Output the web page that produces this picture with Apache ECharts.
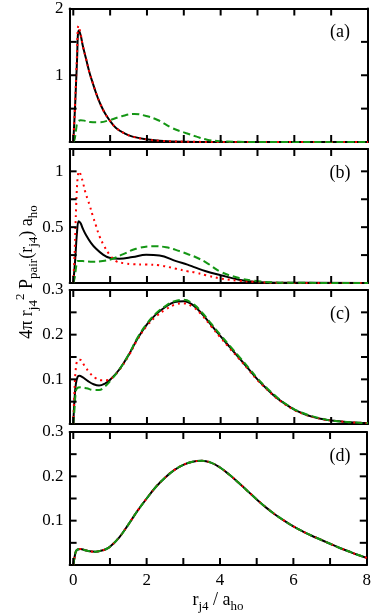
<!DOCTYPE html>
<html>
<head>
<meta charset="utf-8">
<script src="https://cdn.jsdelivr.net/npm/echarts@6/dist/echarts.min.js"></script>
<style>
html,body{margin:0;padding:0;background:#fff;}
#chart{width:374px;height:613px;}
</style>
</head>
<body>
<div id="chart"></div>
<script>
//x轴
var xMin=-0.1,xMax=8;
var xTicks=[0,1,2,3,4,5,6,7];
var xLabels=[0,2,4,6,8];
//y轴 (a)(b)(c)(d)
var yMax=[2,1.2,0.3,0.3];
var yTicks=[
    [0.5,1,1.5],
    [0.25,0.5,0.75,1],
    [0.05,0.1,0.15,0.2,0.25],
    [0.05,0.1,0.15,0.2,0.25]
];
var yLabels=[[1,2],[0.5,1],[0.1,0.2,0.3],[0.1,0.2,0.3]];
var panelNames=['(a)','(b)','(c)','(d)'];

//(a)
var aBlack=[[0,0],[0.05,0.55],[0.1,1.2],[0.147,1.67],[0.2,1.6],[0.255,1.45],[0.345,1.25],[0.435,1.05],[0.53,0.88],[0.62,0.73],[0.71,0.6],[0.84,0.45],[0.98,0.33],[1.16,0.21],[1.39,0.13],[1.61,0.08],[1.98,0.04],[2.34,0.02],[3,0.005],[4,0.001],[8,0]];
var aRed=[[0,0],[0.05,0.6],[0.1,1.3],[0.14,1.74],[0.2,1.62],[0.255,1.45],[0.345,1.25],[0.435,1.05],[0.53,0.88],[0.62,0.73],[0.71,0.6],[0.84,0.45],[0.98,0.33],[1.16,0.21],[1.39,0.13],[1.61,0.08],[1.98,0.04],[2.34,0.02],[3,0.005],[4,0.001],[8,0]];
var aGreen=[[0,0],[0.04,0.05],[0.08,0.2],[0.12,0.3],[0.2,0.325],[0.3,0.32],[0.45,0.3],[0.7,0.295],[1.0,0.33],[1.34,0.39],[1.66,0.42],[1.98,0.39],[2.29,0.33],[2.7,0.205],[3.05,0.135],[3.35,0.08],[3.63,0.035],[4.0,0.012],[4.5,0.003],[5,0],[8,0]];
//(b)
var bBlack=[[0,0],[0.05,0.2],[0.1,0.45],[0.147,0.554],[0.2,0.535],[0.255,0.49],[0.345,0.43],[0.48,0.36],[0.62,0.306],[0.8,0.256],[0.98,0.226],[1.25,0.217],[1.61,0.232],[1.98,0.253],[2.34,0.247],[2.79,0.196],[3.1,0.165],[3.3,0.14],[3.6,0.105],[4.0,0.07],[4.5,0.03],[4.9,0.012],[5.5,0.003],[8,0]];
var bRed=[[0,0],[0.04,0.3],[0.08,0.7],[0.12,0.95],[0.16,1.0],[0.21,0.96],[0.27,0.89],[0.33,0.81],[0.39,0.75],[0.45,0.69],[0.53,0.6],[0.62,0.51],[0.71,0.42],[0.84,0.33],[0.98,0.256],[1.16,0.196],[1.39,0.176],[1.61,0.168],[1.98,0.165],[2.34,0.158],[2.79,0.128],[3.1,0.105],[3.3,0.095],[3.6,0.07],[4.0,0.04],[4.5,0.02],[4.9,0.01],[5.5,0.002],[8,0]];
var bGreen=[[0,0],[0.04,0.05],[0.08,0.15],[0.12,0.196],[0.255,0.196],[0.53,0.19],[0.8,0.196],[1.07,0.217],[1.34,0.256],[1.7,0.306],[2.16,0.33],[2.52,0.32],[2.88,0.286],[3.1,0.26],[3.3,0.235],[3.6,0.185],[4.0,0.1],[4.5,0.045],[4.9,0.02],[5.5,0.005],[6,0.002],[8,0]];
//(c)
var cBlack=[[0,0],[0.03,0.05],[0.07,0.09],[0.12,0.106],[0.16,0.108],[0.25,0.105],[0.4,0.096],[0.55,0.089],[0.7,0.086],[0.85,0.09],[1.0,0.099],[1.25,0.122],[1.5,0.154],[1.75,0.192],[2.0,0.223],[2.25,0.246],[2.5,0.262],[2.75,0.273],[3.0,0.275],[3.25,0.266],[3.5,0.246],[3.75,0.221],[4.0,0.196],[4.25,0.172],[4.5,0.148],[4.75,0.124],[5.0,0.1],[5.25,0.079],[5.5,0.06],[5.75,0.045],[6.0,0.032],[6.25,0.023],[6.5,0.016],[6.75,0.011],[7.0,0.008],[7.5,0.004],[8,0.002]];
var cRed=[[0,0],[0.03,0.07],[0.07,0.125],[0.12,0.143],[0.18,0.144],[0.3,0.131],[0.45,0.114],[0.6,0.103],[0.75,0.098],[0.91,0.098],[1.09,0.106],[1.25,0.121],[1.5,0.152],[1.75,0.19],[2.0,0.22],[2.25,0.241],[2.5,0.256],[2.75,0.267],[3.0,0.27],[3.25,0.262],[3.5,0.243],[3.75,0.218],[4.0,0.193],[4.25,0.169],[4.5,0.146],[4.75,0.122],[5.0,0.098],[5.25,0.078],[5.5,0.059],[5.75,0.044],[6.0,0.031],[6.25,0.022],[6.5,0.016],[6.75,0.011],[7.0,0.008],[7.5,0.004],[8,0.002]];
var cGreen=[[0,0],[0.03,0.03],[0.06,0.065],[0.1,0.08],[0.2,0.082],[0.36,0.08],[0.55,0.076],[0.7,0.076],[0.86,0.084],[1.0,0.096],[1.25,0.122],[1.5,0.155],[1.75,0.194],[2.0,0.225],[2.25,0.248],[2.5,0.264],[2.75,0.275],[3.0,0.278],[3.25,0.269],[3.5,0.249],[3.75,0.224],[4.0,0.199],[4.25,0.175],[4.5,0.151],[4.75,0.127],[5.0,0.102],[5.25,0.081],[5.5,0.062],[5.75,0.046],[6.0,0.033],[6.25,0.024],[6.5,0.017],[6.75,0.012],[7.0,0.008],[7.5,0.004],[8,0.002]];
//(d) 三条曲线重合
var dCurve=[[0,0],[0.03,0.015],[0.07,0.03],[0.12,0.035],[0.2,0.036],[0.3,0.034],[0.45,0.031],[0.6,0.03],[0.75,0.032],[0.9,0.036],[1.0,0.041],[1.25,0.062],[1.5,0.091],[1.75,0.122],[2.0,0.15],[2.25,0.176],[2.5,0.197],[2.75,0.214],[3.0,0.226],[3.25,0.233],[3.5,0.235],[3.75,0.231],[4.0,0.22],[4.25,0.204],[4.5,0.186],[4.75,0.167],[5.0,0.148],[5.25,0.13],[5.5,0.114],[5.75,0.1],[6.0,0.087],[6.25,0.076],[6.5,0.066],[6.75,0.057],[7.0,0.048],[7.25,0.039],[7.5,0.031],[7.75,0.023],[8,0.016]];

var curves=[
    [aBlack,aRed,aGreen],
    [bBlack,bRed,bGreen],
    [cBlack,cRed,cGreen],
    [dCurve,dCurve,dCurve]
];

var font='Liberation Serif';
var gridTop=[8,149,290,432];
var gridH=[134,134,134,133];
var gridLeft=69.6,gridRight=6;
var tickLen=7,tickW=2;
var lineStyles=[
    {color:'#000',width:2,type:'solid'},
    {color:'#ff0000',width:2,type:[2,4]},
    {color:'#149614',width:2,type:[7,4]}
];

function frameLine(){
    return {show:true,onZero:false,lineStyle:{color:'#000',width:2}};
}
//刻度: 用 scatter 的矩形符号, 往框内偏移半个长度
function tickScatter(i,side){
    var data=[],n;
    if(side=='bottom'||side=='top'){
        for(n=0;n<xTicks.length;n++){
            data.push([xTicks[n],side=='bottom'?0:yMax[i]]);
        }
    }else{
        for(n=0;n<yTicks[i].length;n++){
            data.push([side=='left'?xMin:xMax,yTicks[i][n]]);
        }
    }
    var vert=side=='bottom'||side=='top';
    var off={bottom:[0,-tickLen/2],top:[0,tickLen/2],left:[tickLen/2,0],right:[-tickLen/2,0]}[side];
    return {
        type:'scatter',xAxisIndex:2*i,yAxisIndex:2*i,data:data,
        symbol:'rect',symbolSize:vert?[tickW,tickLen]:[tickLen,tickW],symbolOffset:off,
        itemStyle:{color:'#000',opacity:1},clip:false,silent:true,animation:false,z:4
    };
}

var grids=[],xAxes=[],yAxes=[],series=[],graphics=[];
for(var i=0;i<4;i++){
    grids.push({left:gridLeft,right:gridRight,top:gridTop[i],height:gridH[i]});
    //下
    xAxes.push({type:'value',gridIndex:i,position:'bottom',min:xMin,max:xMax,
        axisLine:frameLine(),axisTick:{show:false},splitLine:{show:false},
        axisLabel:{show:i==3,customValues:xLabels,color:'#000',fontFamily:font,fontSize:17,margin:7}});
    //上
    xAxes.push({type:'value',gridIndex:i,position:'top',min:xMin,max:xMax,
        axisLine:frameLine(),axisTick:{show:false},splitLine:{show:false},axisLabel:{show:false}});
    //左
    yAxes.push({type:'value',gridIndex:i,position:'left',min:0,max:yMax[i],
        axisLine:frameLine(),axisTick:{show:false},splitLine:{show:false},
        axisLabel:{show:true,customValues:yLabels[i],color:'#000',fontFamily:font,fontSize:17,margin:6}});
    //右
    yAxes.push({type:'value',gridIndex:i,position:'right',min:0,max:yMax[i],
        axisLine:frameLine(),axisTick:{show:false},splitLine:{show:false},axisLabel:{show:false}});

    for(var k=0;k<3;k++){
        series.push({
            type:'line',xAxisIndex:2*i,yAxisIndex:2*i,
            data:curves[i][k],smooth:0.4,
            symbol:'none',lineStyle:lineStyles[k],silent:true,animation:false,z:2
        });
    }
    series.push(tickScatter(i,'bottom'));
    series.push(tickScatter(i,'top'));
    series.push(tickScatter(i,'left'));
    series.push(tickScatter(i,'right'));
    graphics.push({
        type:'text',x:340,y:gridTop[i]+24,
        style:{text:panelNames[i],fontFamily:font,fontSize:18,fill:'#000',align:'center',verticalAlign:'middle'}
    });
}
//y轴标题
graphics.push({
    type:'text',x:27,y:272,rotation:Math.PI/2,
    style:{
        text:'4π r{sub|j4}{sup|2} P{sub|pair}(r{sub|j4}) a{sub|ho}',
        fontFamily:font,fontSize:18,fill:'#000',align:'center',verticalAlign:'middle',lineHeight:26,
        rich:{
            sub:{fontFamily:font,fontSize:13,fill:'#000',verticalAlign:'bottom',lineHeight:13},
            sup:{fontFamily:font,fontSize:13,fill:'#000',verticalAlign:'top',lineHeight:13}
        }
    }
});
//x轴标题
graphics.push({
    type:'text',x:218,y:600,
    style:{
        text:'r{sub|j4} / a{sub|ho}',
        fontFamily:font,fontSize:18,fill:'#000',align:'center',verticalAlign:'middle',lineHeight:26,
        rich:{
            sub:{fontFamily:font,fontSize:13,fill:'#000',verticalAlign:'bottom',lineHeight:13}
        }
    }
});

var chart=echarts.init(document.getElementById('chart'));
chart.setOption({
    animation:false,
    grid:grids,
    xAxis:xAxes,
    yAxis:yAxes,
    series:series,
    graphic:graphics
});
</script>
</body>
</html>
